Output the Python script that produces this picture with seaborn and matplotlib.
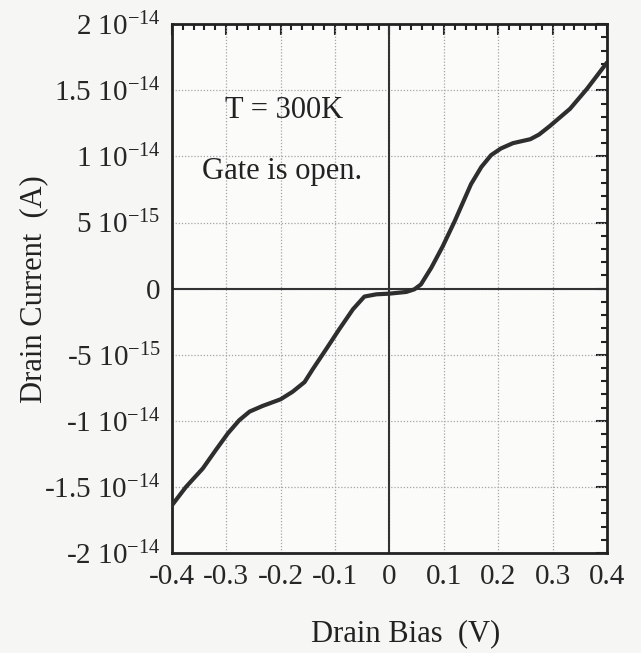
# Curva I-V de drenaje (compuerta abierta, T = 300K)
import matplotlib
matplotlib.use("Agg")
import matplotlib.pyplot as plt
from matplotlib.ticker import MultipleLocator
import seaborn as sns
import pandas as pd
import numpy as np

# Datos: bias en V, corriente en unidades de 1e-15 A
bias = [-0.400, -0.374, -0.343, -0.319, -0.297, -0.276, -0.257, -0.233, -0.200,
        -0.178, -0.156, -0.141, -0.116, -0.092, -0.067, -0.046, -0.024, 0.000,
        0.031, 0.046, 0.058, 0.077, 0.098, 0.120, 0.135, 0.150, 0.169, 0.187,
        0.205, 0.227, 0.259, 0.275, 0.295, 0.332, 0.363, 0.400]
corriente = [-16.4, -15.0, -13.6, -12.2, -10.95, -9.95, -9.3, -8.87, -8.37,
             -7.8, -7.07, -6.1, -4.56, -3.06, -1.56, -0.6, -0.43, -0.38,
             -0.25, -0.05, 0.32, 1.58, 3.2, 5.1, 6.5, 7.9, 9.2, 10.1,
             10.6, 11.0, 11.3, 11.65, 12.3, 13.6, 15.1, 17.1]

xticks = [-0.4, -0.3, -0.2, -0.1, 0, 0.1, 0.2, 0.3, 0.4]
xlabels = ["-0.4", "-0.3", "-0.2", "-0.1", "0", "0.1", "0.2", "0.3", "0.4"]
yticks = [-2e-14, -1.5e-14, -1e-14, -5e-15, 0, 5e-15, 1e-14, 1.5e-14, 2e-14]
ylabels = ["-2 10$^{-14}$", "-1.5 10$^{-14}$", "-1 10$^{-14}$", "-5 10$^{-15}$", "0",
           "5 10$^{-15}$", "1 10$^{-14}$", "1.5 10$^{-14}$", "2 10$^{-14}$"]

datos = pd.DataFrame({"bias": bias, "corriente": np.array(corriente) * 1e-15})

sns.set_style("white")
plt.rcParams["font.family"] = ["Liberation Serif", "DejaVu Serif"]
plt.rcParams["mathtext.default"] = "regular"

fig = plt.figure(figsize=(6.41, 6.53), dpi=100, facecolor="#f6f6f4")
ax = fig.add_axes([0.268, 0.153, 0.679, 0.810])
ax.set_facecolor("#fbfbfa")

# Grilla punteada y ejes en cero
for xv in xticks:
    ax.axvline(xv, color="#a5a5a5", lw=0.9, ls=(0, (1, 1.5)), zorder=1)
for yv in yticks:
    ax.axhline(yv, color="#a5a5a5", lw=0.9, ls=(0, (1, 1.5)), zorder=1)
ax.axvline(0, color="#333333", lw=1.5, zorder=2)
ax.axhline(0, color="#333333", lw=1.5, zorder=2)

sns.lineplot(data=datos, x="bias", y="corriente", sort=False, ax=ax,
             color="#2e2e2e", lw=3.0, zorder=3)

ax.set_xlim(-0.4, 0.4)
ax.set_ylim(-2e-14, 2e-14)
ax.set_xticks(xticks)
ax.set_xticklabels(xlabels, fontsize=21)
ax.set_yticks(yticks)
ax.set_yticklabels(ylabels, fontsize=21)
ax.xaxis.set_minor_locator(MultipleLocator(0.02))
ax.yaxis.set_minor_locator(MultipleLocator(1e-15))
ax.tick_params(which="both", direction="in", top=True, right=True,
               color="#222222", width=1.5)
ax.tick_params(which="major", length=8, pad=8)
ax.tick_params(which="minor", length=4)
for s in ax.spines.values():
    s.set_linewidth(2.0)
    s.set_color("#222222")

ax.set_xlabel("Drain Bias  (V)", fontsize=22, color="#222222")
ax.xaxis.set_label_coords(0.538, -0.125)
ax.set_ylabel("Drain Current  (A)", fontsize=22, labelpad=-3, color="#222222")

ax.text(-0.302, 1.35e-14, "T = 300K", fontsize=22, va="center", ha="left", color="#222222")
ax.text(-0.345, 0.885e-14, "Gate is open.", fontsize=22, va="center", ha="left", color="#222222")

fig.savefig("out.png", dpi=100, facecolor=fig.get_facecolor())
